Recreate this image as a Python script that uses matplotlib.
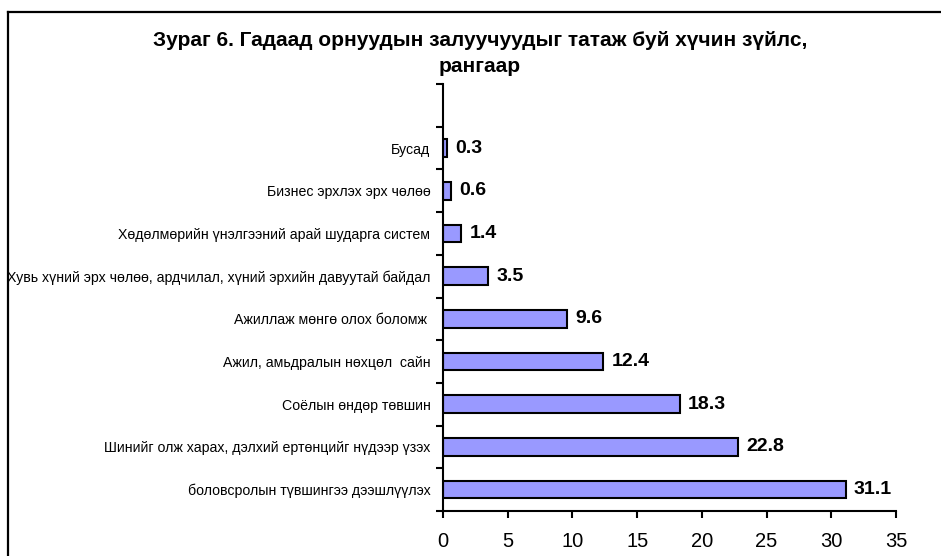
import matplotlib
matplotlib.use("Agg")
import matplotlib.pyplot as plt
from matplotlib.lines import Line2D

plt.rcParams['font.family'] = ['Liberation Sans', 'DejaVu Sans']

categories = [
    "боловсролын түвшингээ дээшлүүлэх",
    "Шинийг олж харах, дэлхий ертөнцийг нүдээр үзэх",
    "Соёлын өндөр төвшин",
    "Ажил, амьдралын нөхцөл  сайн",
    "Ажиллаж мөнгө олох боломж ",
    "Хувь хүний эрх чөлөө, ардчилал, хүний эрхийн давуутай байдал",
    "Хөдөлмөрийн үнэлгээний арай шударга систем",
    "Бизнес эрхлэх эрх чөлөө",
    "Бусад",
]
values = [31.1, 22.8, 18.3, 12.4, 9.6, 3.5, 1.4, 0.6, 0.3]
value_labels = ["31.1", "22.8", "18.3", "12.4", "9.6", "3.5", "1.4", "0.6", "0.3"]
x_ticks = [0, 5, 10, 15, 20, 25, 30, 35]
title = "Зураг 6. Гадаад орнуудын залуучуудыг татаж буй хүчин зүйлс,\nрангаар"

W, H = 941, 556
fig = plt.figure(figsize=(W / 100, H / 100), dpi=100)
ax = fig.add_axes([443 / W, 1 - 511 / H, (896 - 443) / W, (511 - 84) / H])

pos = list(range(len(categories)))
ax.barh(pos, values, height=0.41, color="#9999FF", edgecolor="black", linewidth=1.5)

for p, v, lab in zip(pos, values, value_labels):
    ax.annotate(lab, (v, p), xytext=(6, 0), textcoords="offset points",
                ha="left", va="center", fontsize=14, fontweight="bold")

ax.set_xlim(0, 35)
ax.set_ylim(-0.5, len(categories) + 0.5)
ax.set_xticks(x_ticks)
ax.set_xticklabels([str(t) for t in x_ticks], fontsize=14.5)
ax.set_yticks([i - 0.5 for i in range(len(categories) + 2)])
ax.set_yticklabels([])
ax.set_yticks(pos, minor=True)
ax.set_yticklabels(categories, minor=True, fontsize=10.2)
ax.tick_params(axis="y", which="minor", length=0, pad=9)
ax.tick_params(axis="y", which="major", length=5, width=1.5, direction="out")
ax.tick_params(axis="x", length=5, width=1.5, direction="out", pad=10)

for s in ["top", "right"]:
    ax.spines[s].set_visible(False)
for s in ["left", "bottom"]:
    ax.spines[s].set_linewidth(1.5)

fig.text(480 / W, 1 - 31 / H, title, ha="center", va="top",
         fontsize=15, fontweight="bold", linespacing=1.45)

fig.add_artist(Line2D([8 / W, 8 / W], [0, 1 - 12 / H], color="black", lw=1.6,
                      transform=fig.transFigure))
fig.add_artist(Line2D([8 / W, 1], [1 - 12 / H, 1 - 12 / H], color="black", lw=1.6,
                      transform=fig.transFigure))

fig.savefig("out.png", dpi=100)
